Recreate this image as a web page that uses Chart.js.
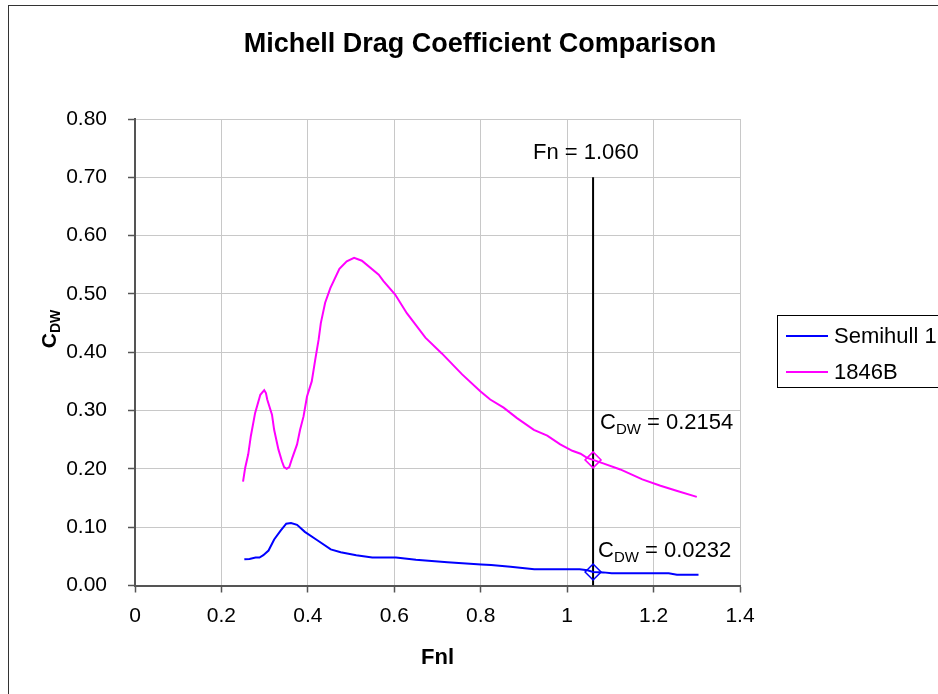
<!DOCTYPE html>
<html>
<head>
<meta charset="utf-8">
<script src="https://cdn.jsdelivr.net/npm/chart.js@4.4.0/dist/chart.umd.min.js"></script>
<style>
  html, body { margin: 0; padding: 0; overflow: hidden; background: #fff; }
  #wrap { width: 1000px; height: 694px; }
</style>
</head>
<body>
<div id="wrap"><canvas id="dragChart" width="1000" height="694"></canvas></div>
<script>
// Semihull 1
const semihullFn = [0.253, 0.265, 0.279, 0.288, 0.297, 0.309, 0.322, 0.337, 0.35, 0.361, 0.375, 0.393, 0.421, 0.453, 0.476, 0.512, 0.549, 0.604, 0.65, 0.723, 0.801, 0.824, 0.869, 0.924, 1.029, 1.047, 1.06, 1.084, 1.103, 1.171, 1.235, 1.254, 1.304];
const semihullCdw = [0.045, 0.0455, 0.048, 0.048, 0.052, 0.06, 0.079, 0.094, 0.106, 0.107, 0.104, 0.092, 0.078, 0.062, 0.057, 0.052, 0.048, 0.048, 0.044, 0.04, 0.036, 0.035, 0.032, 0.028, 0.028, 0.026, 0.0232, 0.0225, 0.021, 0.021, 0.021, 0.0185, 0.0185];

// 1846B
const hull1846Fn = [0.25, 0.255, 0.262, 0.268, 0.278, 0.29, 0.299, 0.303, 0.306, 0.317, 0.322, 0.332, 0.34, 0.345, 0.351, 0.357, 0.364, 0.375, 0.382, 0.39, 0.398, 0.409, 0.417, 0.425, 0.43, 0.44, 0.452, 0.473, 0.49, 0.507, 0.525, 0.564, 0.575, 0.602, 0.629, 0.672, 0.71, 0.757, 0.799, 0.822, 0.853, 0.884, 0.923, 0.954, 0.984, 1.012, 1.031, 1.046, 1.06, 1.085, 1.123, 1.174, 1.216, 1.255, 1.3];
const hull1846Cdw = [0.178, 0.202, 0.225, 0.256, 0.296, 0.327, 0.335, 0.33, 0.319, 0.293, 0.267, 0.233, 0.213, 0.203, 0.2, 0.203, 0.219, 0.242, 0.267, 0.29, 0.324, 0.35, 0.387, 0.422, 0.45, 0.485, 0.51, 0.543, 0.556, 0.562, 0.557, 0.533, 0.522, 0.499, 0.467, 0.425, 0.398, 0.362, 0.333, 0.319, 0.305, 0.287, 0.267, 0.257, 0.242, 0.231, 0.226, 0.219, 0.2154, 0.209, 0.199, 0.182, 0.171, 0.162, 0.152];

// linha vertical de leitura e valores marcados
const fnMark = 1.06;
const fnLineTop = 0.7;
const cdwSemihull = 0.0232;
const cdw1846 = 0.2154;

// rótulos dos eixos
const xTickLabels = ["0", "0.2", "0.4", "0.6", "0.8", "1", "1.2", "1.4"];
const yTickLabels = ["0.00", "0.10", "0.20", "0.30", "0.40", "0.50", "0.60", "0.70", "0.80"];

const seriesNames = ["Semihull 1", "1846B"];
const FONT = '"Liberation Sans", Arial, sans-serif';

function toPoints(xs, ys) {
  return xs.map((x, i) => ({ x: x, y: ys[i] }));
}

// escreve "C" com subscrito "DW" seguido do resto do texto
function drawSubText(ctx, x, y, main, sub, rest, size, subSize, bold) {
  const w = bold ? "bold " : "";
  ctx.font = w + size + "px " + FONT;
  ctx.fillText(main, x, y);
  x += ctx.measureText(main).width;
  ctx.font = w + subSize + "px " + FONT;
  ctx.fillText(sub, x, y + subSize * 0.3);
  x += ctx.measureText(sub).width;
  if (rest) {
    ctx.font = w + size + "px " + FONT;
    ctx.fillText(rest, x, y);
  }
}

const decorPlugin = {
  id: "decor",
  beforeDraw(chart) {
    const ctx = chart.ctx;
    ctx.save();
    ctx.strokeStyle = "#333";
    ctx.lineWidth = 1;
    ctx.strokeRect(8.5, 5.5, 2000, 2000);
    ctx.restore();
  },
  afterDraw(chart) {
    const ctx = chart.ctx;
    const area = chart.chartArea;
    ctx.save();
    ctx.fillStyle = "#000";
    ctx.textBaseline = "alphabetic";

    // título
    ctx.textAlign = "center";
    ctx.font = "bold 27px " + FONT;
    ctx.fillText("Michell Drag Coefficient Comparison", 480, 52);

    // título do eixo x
    ctx.font = "bold 22px " + FONT;
    ctx.fillText("Fnl", (area.left + area.right) / 2, 664);

    // título do eixo y (girado)
    ctx.textAlign = "left";
    ctx.save();
    ctx.translate(49, 329);
    ctx.rotate(-Math.PI / 2);
    ctx.font = "bold 21px " + FONT;
    const cw = ctx.measureText("C").width;
    ctx.font = "bold 14px " + FONT;
    const dw = ctx.measureText("DW").width;
    drawSubText(ctx, -(cw + dw) / 2, 7, "C", "DW", "", 21, 14, true);
    ctx.restore();

    // anotações
    ctx.font = "22px " + FONT;
    ctx.fillText("Fn = 1.060", 533, 159);
    drawSubText(ctx, 600, 429, "C", "DW", " = 0.2154", 22, 15, false);
    drawSubText(ctx, 598, 557, "C", "DW", " = 0.0232", 22, 15, false);

    // legenda
    ctx.strokeStyle = "#000";
    ctx.lineWidth = 1;
    ctx.strokeRect(777.5, 315.5, 400, 72);
    const legendColors = ["#0000ff", "#ff00ff"];
    const legendY = [336, 372];
    ctx.font = "22px " + FONT;
    ctx.textBaseline = "middle";
    seriesNames.forEach((name, i) => {
      ctx.strokeStyle = legendColors[i];
      ctx.lineWidth = 2;
      ctx.beginPath();
      ctx.moveTo(786, legendY[i]);
      ctx.lineTo(828, legendY[i]);
      ctx.stroke();
      ctx.fillText(name, 834, legendY[i] + 1);
    });
    ctx.restore();
  },
};

const ctx = document.getElementById("dragChart").getContext("2d");

new Chart(ctx, {
  type: "line",
  data: {
    datasets: [
      {
        label: "marca 1846B",
        data: [{ x: fnMark, y: cdw1846 }],
        showLine: false,
        pointStyle: "rectRot",
        pointRadius: 8,
        borderColor: "#ff00ff",
        backgroundColor: "rgba(0,0,0,0)",
        pointBorderWidth: 1.5,
        order: 0,
      },
      {
        label: "marca Semihull",
        data: [{ x: fnMark, y: cdwSemihull }],
        showLine: false,
        pointStyle: "rectRot",
        pointRadius: 8,
        borderColor: "#0000ff",
        backgroundColor: "rgba(0,0,0,0)",
        pointBorderWidth: 1.5,
        order: 0,
      },
      {
        label: seriesNames[0],
        data: toPoints(semihullFn, semihullCdw),
        borderColor: "#0000ff",
        borderWidth: 2,
        pointRadius: 0,
        tension: 0,
        order: 1,
      },
      {
        label: seriesNames[1],
        data: toPoints(hull1846Fn, hull1846Cdw),
        borderColor: "#ff00ff",
        borderWidth: 2,
        pointRadius: 0,
        tension: 0,
        order: 2,
      },
      {
        label: "Fn",
        data: [{ x: fnMark, y: 0 }, { x: fnMark, y: fnLineTop }],
        borderColor: "#000",
        borderWidth: 2,
        pointRadius: 0,
        order: 3,
      },
    ],
  },
  options: {
    responsive: false,
    animation: false,
    devicePixelRatio: 1,
    layout: { padding: { left: 0, top: 119, right: 260, bottom: 0 } },
    plugins: {
      legend: { display: false },
      title: { display: false },
      tooltip: { enabled: false },
    },
    scales: {
      x: {
        type: "linear",
        min: 0,
        max: 1.4,
        afterFit: (scale) => { scale.height = 694 - 585.5; },
        ticks: {
          stepSize: 0.2,
          color: "#000",
          font: { family: FONT, size: 21 },
          padding: 11,
          maxRotation: 0,
          callback: (value, index) => xTickLabels[index],
        },
        grid: { color: "#c8c8c8", lineWidth: 1, tickLength: 7, tickColor: "#555", tickWidth: 1.5 },
        border: { color: "#555", width: 2 },
      },
      y: {
        type: "linear",
        min: 0,
        max: 0.8,
        afterFit: (scale) => { scale.width = 135; },
        ticks: {
          stepSize: 0.1,
          color: "#000",
          font: { family: FONT, size: 21 },
          padding: 21,
          callback: (value, index) => yTickLabels[index],
        },
        grid: { color: "#c8c8c8", lineWidth: 1, tickLength: 7, tickColor: "#555", tickWidth: 1.5 },
        border: { color: "#555", width: 2 },
      },
    },
  },
  plugins: [decorPlugin],
});
</script>
</body>
</html>
